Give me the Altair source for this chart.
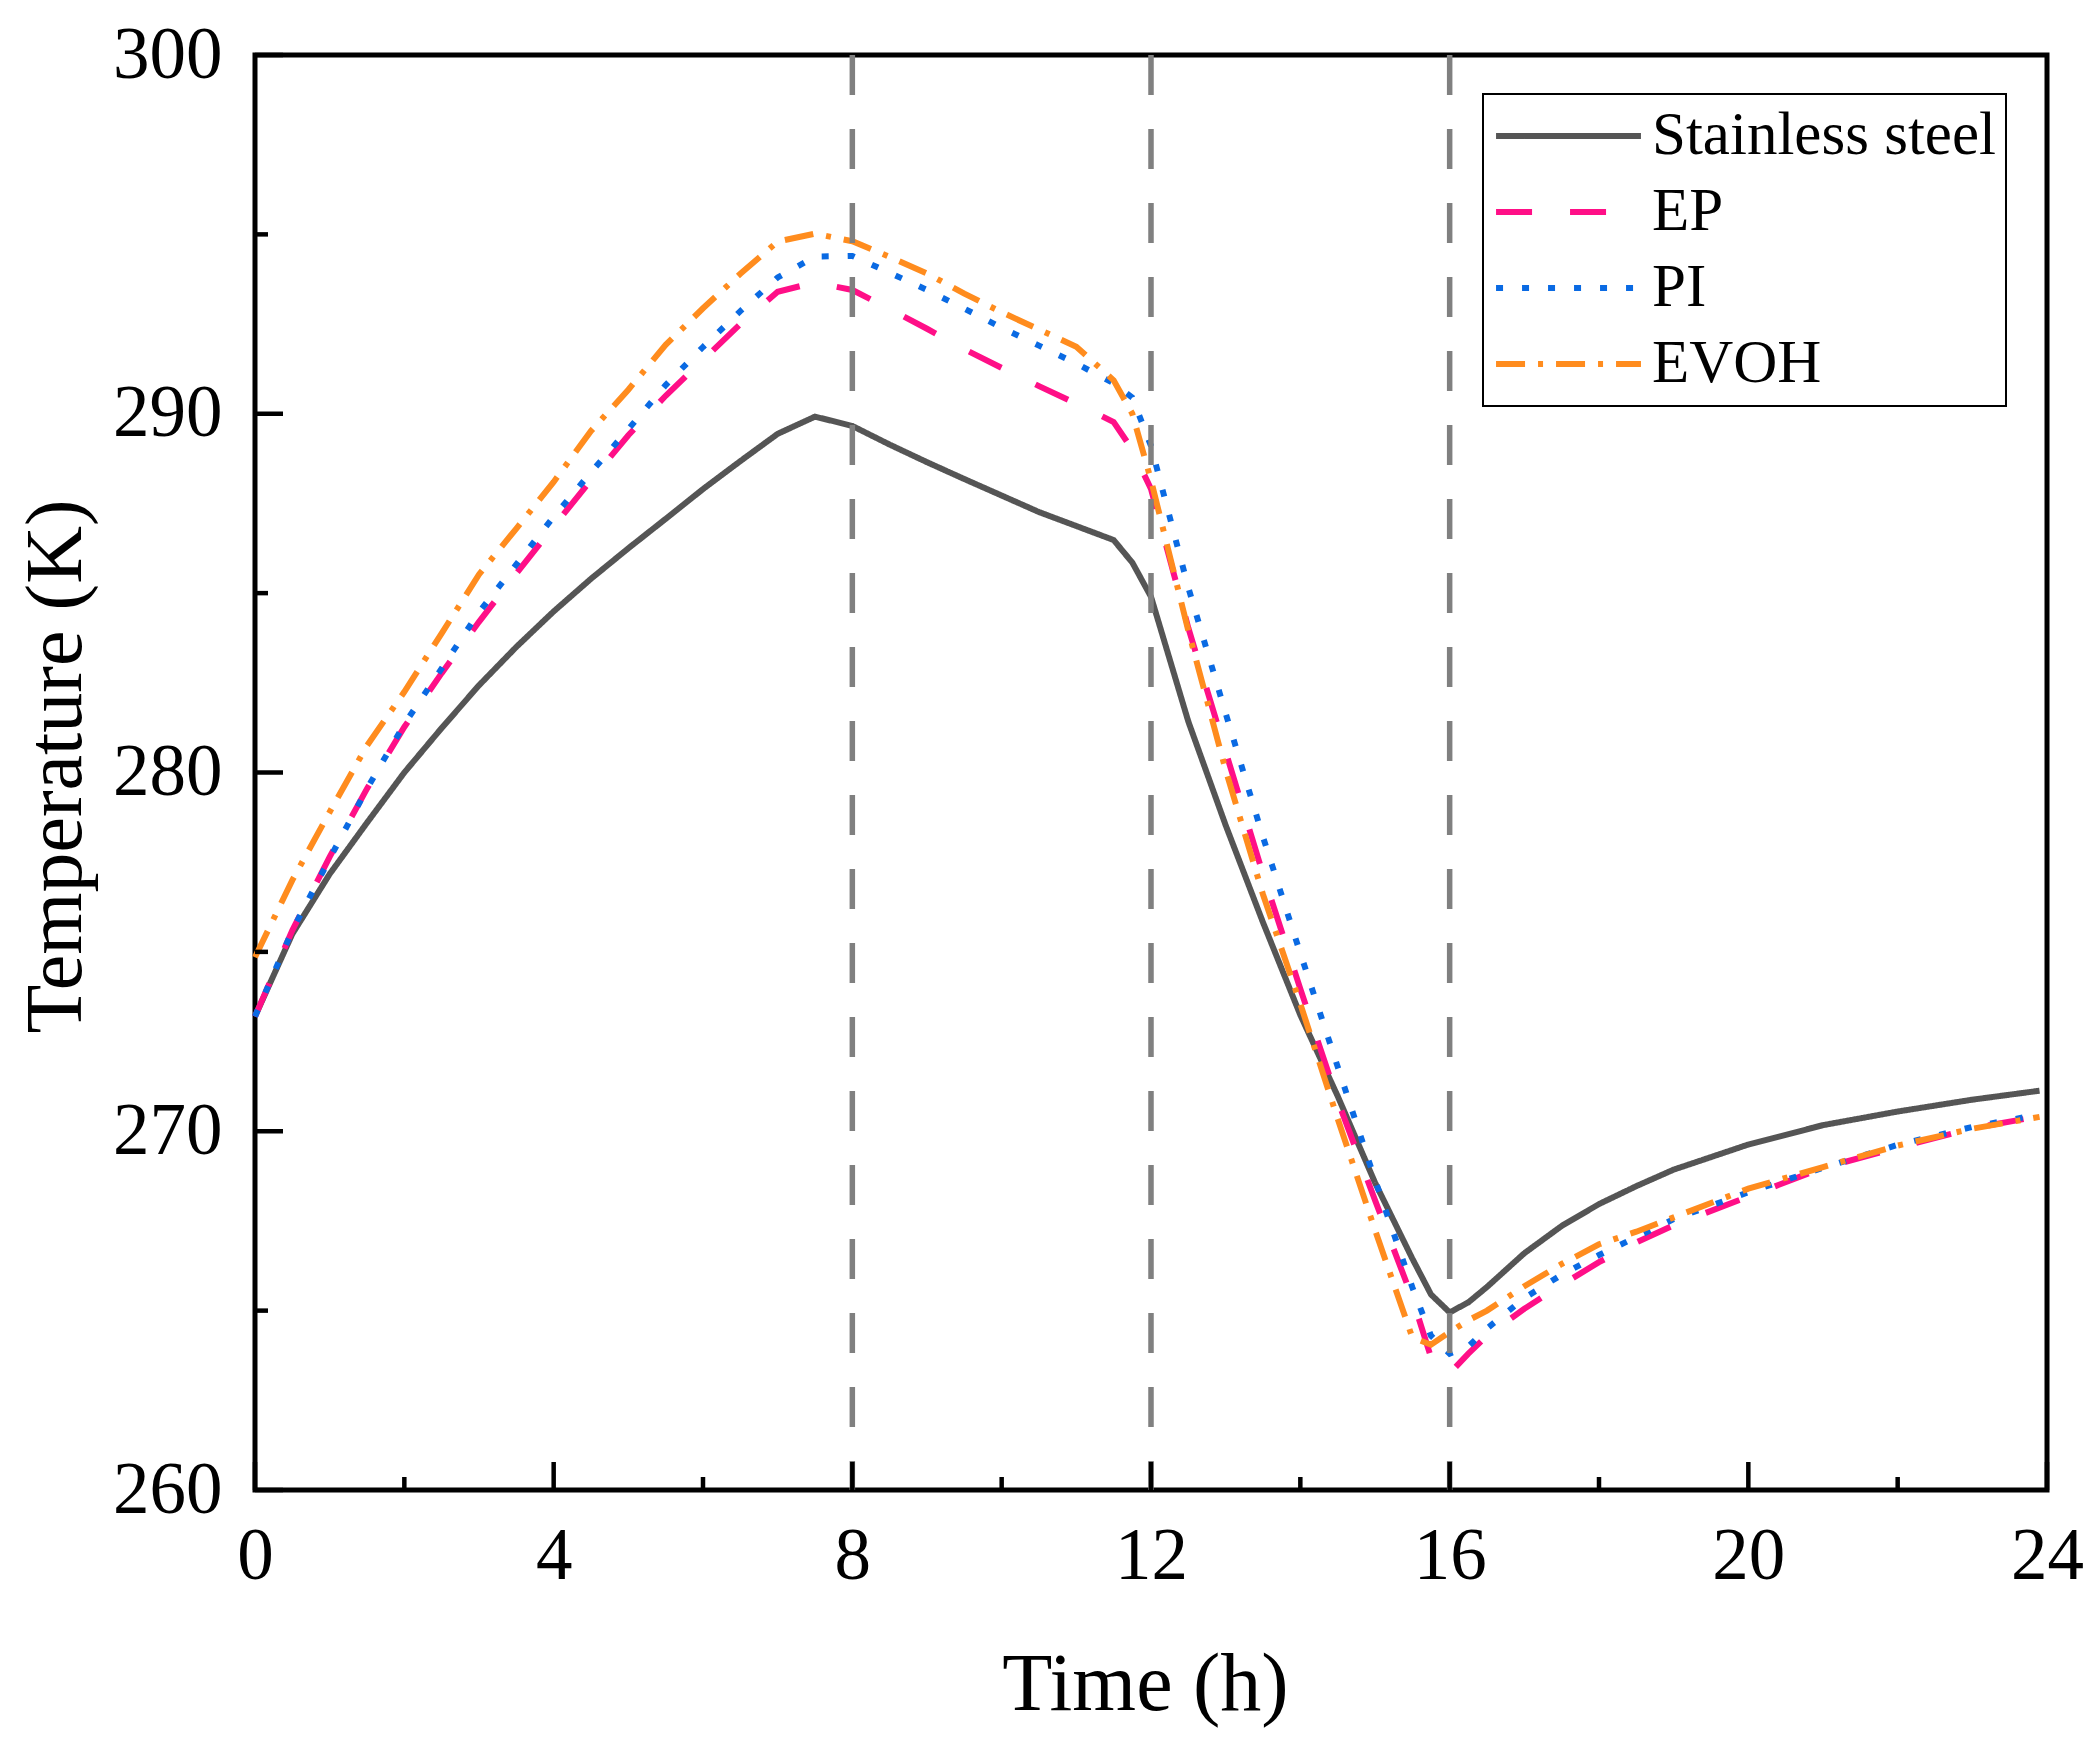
import altair as alt
import pandas as pd

time_h = [0, 0.5, 1, 1.5, 2, 2.5, 3, 3.5, 4, 4.5, 5, 5.5, 6, 6.5, 7, 7.5, 8, 8.5, 9, 9.5,
          10, 10.5, 11, 11.5, 11.75, 12, 12.5, 13, 13.5, 14, 14.5, 15, 15.5, 15.75, 16, 16.25,
          16.5, 17, 17.5, 18, 18.5, 19, 20, 21, 22, 23, 23.9]

steel = [273.2, 275.5, 277.17, 278.6, 280.0, 281.24, 282.43, 283.5, 284.49, 285.4, 286.25, 287.07,
         287.9, 288.68, 289.44, 289.92, 289.66, 289.14, 288.65, 288.18, 287.72, 287.26, 286.87,
         286.48, 285.85, 284.9, 281.42, 278.53, 275.82, 273.24, 270.98, 268.57, 266.45, 265.45,
         264.95, 265.23, 265.66, 266.6, 267.36, 267.97, 268.47, 268.93, 269.63, 270.17, 270.55,
         270.88, 271.13]

ep = [273.2, 275.6, 277.65, 279.55, 281.27, 282.77, 284.2, 285.55, 286.86, 288.15, 289.4, 290.5,
      291.5, 292.5, 293.4, 293.66, 293.45, 292.92, 292.37, 291.8, 291.28, 290.77, 290.28, 289.77,
      289.0, 287.9, 284.03, 280.58, 277.17, 273.97, 270.86, 268.08, 265.35, 263.7, 263.25, 263.8,
      264.3, 265.05, 265.72, 266.35, 266.9, 267.38, 268.18, 268.98, 269.54, 270.08, 270.42]

pi = [273.2, 275.6, 277.6, 279.55, 281.35, 282.9, 284.47, 285.8, 287.13, 288.37, 289.57, 290.8,
      291.86, 292.86, 293.8, 294.38, 294.4, 293.93, 293.45, 292.93, 292.4, 291.9, 291.4, 290.85,
      290.45, 289.1, 285.15, 281.65, 278.2, 274.96, 271.8, 268.65, 265.65, 264.3, 263.8, 264.0,
      264.5, 265.35, 266.0, 266.55, 267.05, 267.55, 268.3, 268.98, 269.62, 270.12, 270.47]

evoh = [274.85, 277.0, 278.9, 280.75, 282.25, 283.88, 285.52, 286.8, 288.1, 289.52, 290.67, 291.92,
        292.94, 293.9, 294.8, 295.02, 294.81, 294.37, 293.91, 293.35, 292.83, 292.35, 291.87, 290.93,
        290.0, 288.15, 283.95, 280.07, 276.6, 273.55, 270.35, 267.25, 264.25, 264.05, 264.4, 264.73,
        265.0, 265.68, 266.3, 266.85, 267.2, 267.6, 268.4, 269.0, 269.6, 270.07, 270.4]

series_names = ["Stainless steel", "EP", "PI", "EVOH"]
series_colors = ["#555555", "#FF0F87", "#0A6AE3", "#FF8C1E"]
series_dashes = [[1, 0], [36, 38], [7, 19], [29, 13, 5, 13]]

v_lines = [8, 12, 16]
x_major = [0, 4, 8, 12, 16, 20, 24]
x_minor = [2, 6, 10, 14, 18, 22]
y_major = [260, 270, 280, 290, 300]
y_minor = [265, 275, 285, 295]

W, H = 1792, 1435
FONT = "Liberation Serif"

rows = []
for name, vals in zip(series_names, [steel, ep, pi, evoh]):
    for t, v in zip(time_h, vals):
        rows.append({"t": t, "T": v, "series": name})
df = pd.DataFrame(rows)

xs = alt.Scale(domain=[0, 24], nice=False, zero=False)
ys = alt.Scale(domain=[260, 300], nice=False, zero=False)

x_axis = alt.Axis(values=x_major, title="Time (h)", grid=False, domain=False, ticks=False,
                  labelFont=FONT, labelFontSize=73, labelColor="black",
                  labelPadding=30, labelFlush=False, labelOverlap=False, labelBound=False,
                  titleFont=FONT, titleFontSize=82, titleFontWeight="normal",
                  titleColor="black", titleX=890, titleY=219, titleAlign="center",
                  titleBaseline="alphabetic", titleAngle=0)
y_axis = alt.Axis(values=y_major, title="Temperature (K)", grid=False, domain=False,
                  ticks=False, labelFont=FONT, labelFontSize=73,
                  labelColor="black", labelPadding=33, labelFlush=False,
                  labelOverlap=False, labelBound=False,
                  titleFont=FONT, titleFontSize=80, titleFontWeight="normal",
                  titleColor="black", titleX=-175, titleY=711, titleAlign="center",
                  titleBaseline="alphabetic", titleAngle=270)

legend_kw = dict(title=None, orient="none", legendX=1228, legendY=39,
                 symbolType="stroke", symbolSize=21000, symbolStrokeWidth=6,
                 labelFont=FONT, labelFontSize=61, labelColor="black", labelOffset=8,
                 rowPadding=12, clipHeight=64, padding=10, strokeColor="black",
                 fillColor="white", labelLimit=0)

lines = alt.Chart(df).mark_line(strokeWidth=6).encode(
    x=alt.X("t:Q", scale=xs, axis=x_axis),
    y=alt.Y("T:Q", scale=ys, axis=y_axis),
    color=alt.Color("series:N", scale=alt.Scale(domain=series_names, range=series_colors),
                    legend=alt.Legend(**legend_kw)),
    strokeDash=alt.StrokeDash("series:N",
                              scale=alt.Scale(domain=series_names, range=series_dashes),
                              legend=alt.Legend(**legend_kw)),
    order=alt.Order("t:Q"),
)

vdf = pd.DataFrame({"v": v_lines})
vrules = alt.Chart(vdf).mark_rule(color="#808080", strokeWidth=5.5, strokeDash=[40, 34]).encode(
    x=alt.X("v:Q", scale=xs, axis=x_axis),
    y=alt.datum(300, scale=ys, axis=y_axis),
    y2=alt.datum(260),
)

def xticks(vals, length):
    d = pd.DataFrame({"v": vals})
    return alt.Chart(d).mark_rule(color="black", strokeWidth=4.5).encode(
        x=alt.X("v:Q", scale=xs, axis=x_axis),
        y=alt.value(H),
        y2=alt.value(H - length),
    )

def yticks(vals, length):
    d = pd.DataFrame({"v": vals})
    return alt.Chart(d).mark_rule(color="black", strokeWidth=4.5).encode(
        y=alt.Y("v:Q", scale=ys, axis=y_axis),
        x=alt.value(0),
        x2=alt.value(length),
    )

chart = alt.layer(
    lines, vrules,
    xticks(x_major, 28), xticks(x_minor, 13),
    yticks(y_major, 28), yticks(y_minor, 13),
).properties(
    width=W, height=H,
    autosize=alt.AutoSizeParams(type="none"),
    padding={"left": 247, "top": 47, "right": 36, "bottom": 240},
    background="white",
).configure_view(
    stroke="black", strokeWidth=5,
).configure_legend(
    strokeWidth=2,
)

chart.save("out.html", embed_options={"renderer": "svg", "actions": False})
